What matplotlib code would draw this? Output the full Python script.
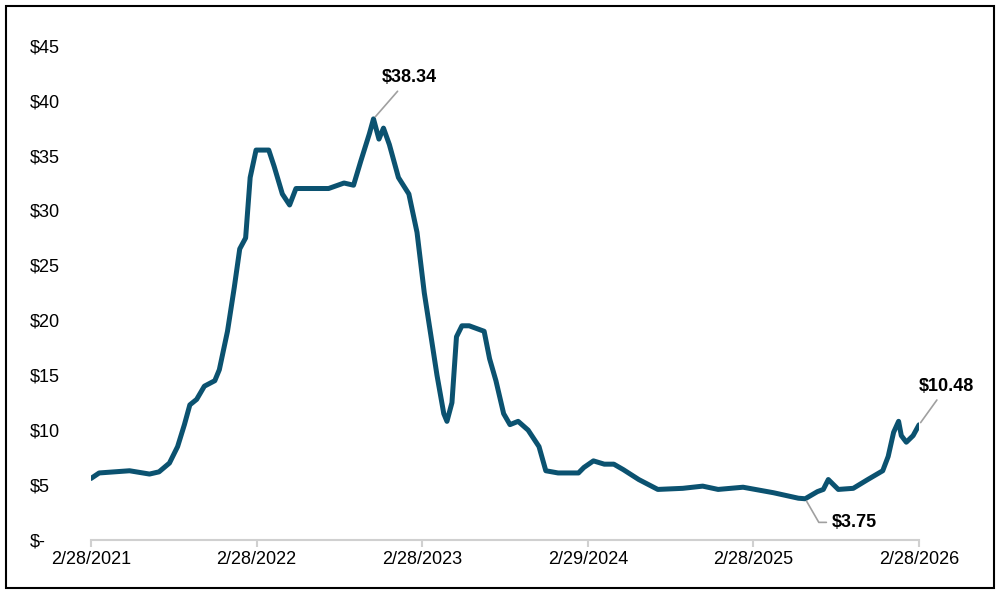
import matplotlib
matplotlib.use("Agg")
import matplotlib.pyplot as plt
import pandas as pd

plt.rcParams['font.family'] = ['Liberation Sans', 'DejaVu Sans']

dates = ['2021-02-28', '2021-03-18', '2021-05-24', '2021-07-07', '2021-07-28', '2021-08-20',
         '2021-09-07', '2021-09-22', '2021-10-04', '2021-10-19', '2021-11-05', '2021-11-28',
         '2021-12-08', '2021-12-26', '2022-01-10', '2022-01-22', '2022-02-04', '2022-02-14',
         '2022-02-27', '2022-03-27', '2022-04-08', '2022-04-26', '2022-05-12', '2022-05-26',
         '2022-06-23', '2022-08-06', '2022-09-09', '2022-09-30', '2022-10-16', '2022-11-04',
         '2022-11-13', '2022-11-25', '2022-12-05', '2022-12-18', '2023-01-07', '2023-01-30',
         '2023-02-17', '2023-03-05', '2023-03-20', '2023-04-02', '2023-04-17', '2023-04-24',
         '2023-05-05', '2023-05-15', '2023-05-27', '2023-06-12', '2023-07-15', '2023-07-27',
         '2023-08-10', '2023-08-27', '2023-09-10', '2023-09-28', '2023-10-20', '2023-11-13',
         '2023-11-28', '2023-12-25', '2024-02-08', '2024-02-20', '2024-03-12', '2024-04-05',
         '2024-04-26', '2024-05-17', '2024-06-20', '2024-08-01', '2024-09-25', '2024-11-08',
         '2024-12-12', '2025-02-05', '2025-04-13', '2025-06-07', '2025-06-22', '2025-07-19',
         '2025-08-01', '2025-08-12', '2025-09-03', '2025-10-06', '2025-11-07', '2025-12-10',
         '2025-12-22', '2026-01-03', '2026-01-14', '2026-01-20', '2026-01-31', '2026-02-15',
         '2026-02-28']
prices = [5.6, 6.1, 6.3, 6.0, 6.2, 7.0,
          8.5, 10.5, 12.3, 12.8, 14.0, 14.5,
          15.5, 19.0, 23.0, 26.5, 27.5, 33.0,
          35.5, 35.5, 34.0, 31.5, 30.5, 32.0,
          32.0, 32.0, 32.5, 32.3, 34.5, 37.0,
          38.34, 36.5, 37.5, 36.0, 33.0, 31.5,
          28.0, 22.5, 18.5, 15.0, 11.5, 10.8,
          12.5, 18.5, 19.5, 19.5, 19.0, 16.5,
          14.5, 11.5, 10.5, 10.8, 10.0, 8.5,
          6.3, 6.1, 6.1, 6.6, 7.2, 6.9,
          6.9, 6.4, 5.5, 4.6, 4.7, 4.9,
          4.6, 4.8, 4.3, 3.8, 3.75, 4.4,
          4.6, 5.5, 4.6, 4.7, 5.5, 6.3,
          7.6, 9.8, 10.8, 9.5, 8.9, 9.5,
          10.48]
tick_dates = ['2021-02-28', '2022-02-28', '2023-02-28', '2024-02-29', '2025-02-28', '2026-02-28']
tick_labels = ['2/28/2021', '2/28/2022', '2/28/2023', '2/29/2024', '2/28/2025', '2/28/2026']

x = pd.to_datetime(dates)
fig = plt.figure(figsize=(10, 5.94), dpi=100)
ax = fig.add_axes([0.091, 0.091, 0.828, 0.832])
ax.plot(x, prices, color='#0b5270', lw=3.6, solid_capstyle='round')

ax.set_xlim(pd.Timestamp(tick_dates[0]), pd.Timestamp(tick_dates[-1]))
ax.set_ylim(0, 45)
ax.set_xticks(pd.to_datetime(tick_dates))
ax.set_xticklabels(tick_labels, fontsize=13)
ax.set_yticks(range(0, 50, 5))
ax.set_yticklabels(['$-'] + [f'${v}' for v in range(5, 50, 5)], fontsize=13)
for s in ['top', 'right', 'left']:
    ax.spines[s].set_visible(False)
ax.spines['bottom'].set_color('#d0d0d0')
ax.spines['bottom'].set_linewidth(1.5)
ax.tick_params(axis='x', color='#d0d0d0', length=5, width=1.5, pad=3)
ax.tick_params(axis='y', length=0, pad=44)
for lab in ax.get_yticklabels():
    lab.set_horizontalalignment('left')

grey = dict(arrowstyle='-', color='#a0a0a0', lw=1.2)
ax.annotate('$38.34', xy=(x[30], prices[30]), xytext=(pd.Timestamp('2022-12-01'), 41.3),
            fontsize=13, fontweight='bold', arrowprops=grey, va='bottom')
ax.annotate('$10.48', xy=(x[-1], prices[-1]), xytext=(pd.Timestamp('2026-02-28'), 13.2),
            fontsize=13, fontweight='bold', arrowprops=grey, va='bottom', annotation_clip=False)
ax.annotate('$3.75', xy=(x[70], prices[70]), xytext=(pd.Timestamp('2025-08-20'), 1.6),
            fontsize=13, fontweight='bold', va='center',
            arrowprops=dict(arrowstyle='-', color='#a0a0a0', lw=1.2,
                            connectionstyle='angle,angleA=0,angleB=-60,rad=0'))

fig.add_artist(plt.Rectangle((0.006, 0.01), 0.988, 0.98, transform=fig.transFigure,
                             fill=False, edgecolor='black', lw=1.5))
fig.savefig('out.png', dpi=100)
